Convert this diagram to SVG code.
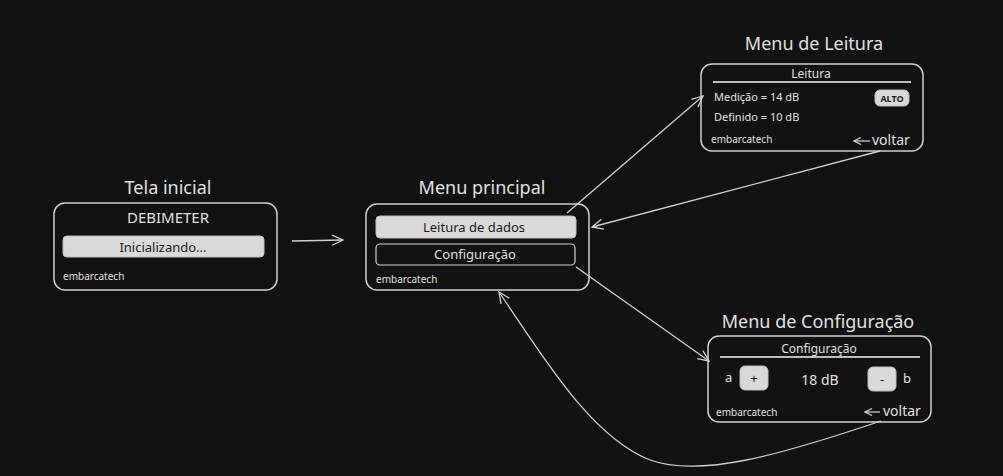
<svg xmlns="http://www.w3.org/2000/svg" width="1003" height="476" viewBox="0 0 1003 476">
<defs>
<marker id="ah" markerWidth="14" markerHeight="14" refX="12" refY="7" orient="auto" markerUnits="userSpaceOnUse">
<path d="M1 2 L12 7 L1 12" fill="none" stroke="#cfcfcf" stroke-width="1.3"/>
</marker>
<marker id="sa" markerWidth="10" markerHeight="10" refX="9" refY="5" orient="auto" markerUnits="userSpaceOnUse">
<path d="M2 1.5 L9 5 L2 8.5" fill="none" stroke="#d6d6d6" stroke-width="1.2"/>
</marker>
</defs>
<style>
text{font-family:"Noto Sans","Open Sans",sans-serif;fill:#e0e0e0}
.t{font-size:18px;text-anchor:middle}
.box{fill:none;stroke:#d0d0d0;stroke-width:1.5}
.bar{fill:#d9d9d9;stroke:#bdbdbd;stroke-width:1}
.dk{fill:#1a1a1a;text-anchor:middle}
.sm{font-size:10px}
.c{stroke:#cfcfcf;stroke-width:1.3;fill:none}
</style>
<rect width="1003" height="476" fill="#121212"/>
<g id="tela-inicial">
<text class="t" x="168" y="194">Tela inicial</text>
<rect class="box" x="54" y="203" width="223" height="87" rx="11"/>
<text x="168" y="223" font-size="15" text-anchor="middle">DEBIMETER</text>
<rect class="bar" x="63" y="236" width="201" height="21" rx="4"/>
<text class="dk" x="163" y="252" font-size="13">Inicializando...</text>
<text class="sm" x="63" y="280">embarcatech</text>
</g>
<g id="menu-principal">
<text class="t" x="482" y="194">Menu principal</text>
<rect class="box" x="366" y="204" width="223" height="86" rx="11"/>
<rect class="bar" x="376" y="216" width="200" height="22" rx="4"/>
<text class="dk" x="474" y="232" font-size="13">Leitura de dados</text>
<rect x="376" y="244" width="199" height="21" rx="4" fill="none" stroke="#d0d0d0" stroke-width="1.2"/>
<text x="475" y="259" font-size="13" text-anchor="middle">Configuração</text>
<text class="sm" x="376" y="283">embarcatech</text>
</g>
<g id="menu-leitura">
<text class="t" x="814" y="50">Menu de Leitura</text>
<rect class="box" x="701" y="64" width="222" height="87" rx="11"/>
<text x="811" y="78" font-size="12" text-anchor="middle">Leitura</text>
<line x1="713" y1="82" x2="911" y2="82" stroke="#bdbdbd" stroke-width="2"/>
<text x="714" y="101" font-size="11">Medição = 14 dB</text>
<rect class="bar" x="875" y="90" width="34" height="16" rx="5"/>
<text class="dk" x="892" y="102" font-size="9" font-weight="bold">ALTO</text>
<text x="714" y="121" font-size="11">Definido = 10 dB</text>
<text class="sm" x="711" y="143">embarcatech</text>
<line x1="870" y1="141" x2="854" y2="141" stroke="#d6d6d6" stroke-width="1.2" marker-end="url(#sa)"/>
<text x="872" y="145" font-size="14">voltar</text>
</g>
<g id="menu-configuracao">
<text class="t" x="818" y="328">Menu de Configuração</text>
<rect class="box" x="708" y="336" width="223" height="86" rx="11"/>
<text x="819" y="353" font-size="12" text-anchor="middle">Configuração</text>
<line x1="720" y1="357" x2="920" y2="357" stroke="#bdbdbd" stroke-width="2"/>
<text x="725" y="382" font-size="13">a</text>
<rect class="bar" x="740" y="366" width="28" height="24" rx="5"/>
<text class="dk" x="754" y="383" font-size="13">+</text>
<text x="820" y="385" font-size="14" text-anchor="middle">18 dB</text>
<rect class="bar" x="868" y="367" width="28" height="24" rx="5"/>
<text class="dk" x="882" y="384" font-size="13">-</text>
<text x="903" y="383" font-size="13">b</text>
<text class="sm" x="716" y="416">embarcatech</text>
<line x1="880" y1="412" x2="865" y2="412" stroke="#d6d6d6" stroke-width="1.2" marker-end="url(#sa)"/>
<text x="883" y="416" font-size="14">voltar</text>
</g>
<g id="connectors">
<path class="c" d="M292 241 L343 240" marker-end="url(#ah)"/>
<path class="c" d="M567 213 L703 96" marker-end="url(#ah)"/>
<path class="c" d="M880 151 L592 227" marker-end="url(#ah)"/>
<path class="c" d="M576 267 L709 361" marker-end="url(#ah)"/>
<path class="c" d="M881 421 C780 455 700 478 650 460 C590 437 540 352 499 292" marker-end="url(#ah)"/>
</g>
</svg>
